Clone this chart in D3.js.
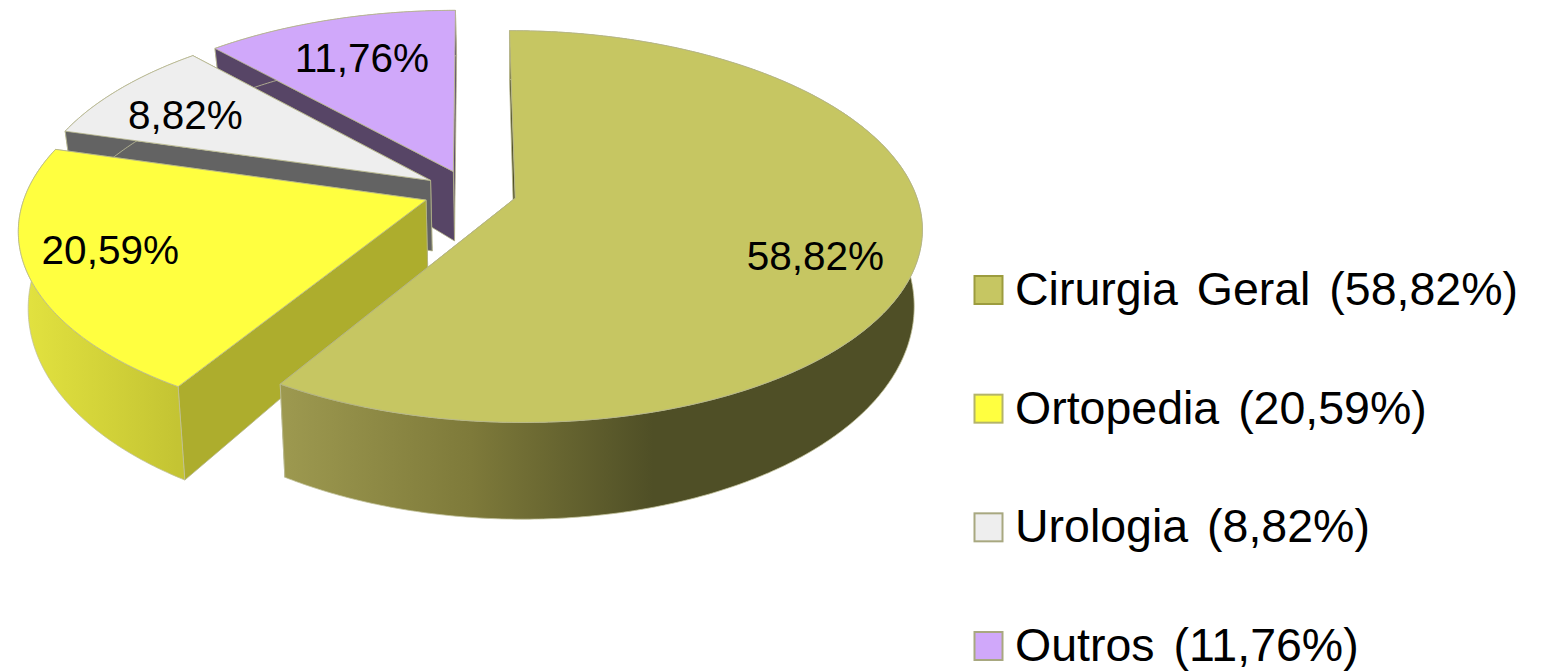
<!DOCTYPE html>
<html>
<head>
<meta charset="utf-8">
<script src="https://cdn.jsdelivr.net/npm/d3@7"></script>
<style>
html, body { margin: 0; padding: 0; background: #fff; }
svg { display: block; }
text { font-family: "Liberation Sans", Arial, sans-serif; fill: #000; }
</style>
</head>
<body>
<svg id="chart" width="1556" height="672"></svg>
<script>
// chart values
var categories = ["Cirurgia Geral", "Ortopedia", "Urologia", "Outros"];
var values = [58.82, 20.59, 8.82, 11.76];
var labels = ["58,82%", "20,59%", "8,82%", "11,76%"];
var legendLabels = ["Cirurgia Geral (58,82%)", "Ortopedia (20,59%)", "Urologia (8,82%)", "Outros (11,76%)"];

// colours per slice: top, side face, legend border
var topColors = ["#c6c662", "#ffff40", "#eeeeee", "#d0a8fa"];
var sideColors = ["#4f4f26", "#adad2d", "#636363", "#574566"];
var borderColors = ["#9c9c3e", "#b4b46a", "#a8a880", "#a8a880"];

var width = 1556,
    height = 672;

// perspective of the pie plane
var cx = 470, cy = 192, A = 400, B = 190, persp = 0.1444, explode = 0.117;

function project(u, v) {
    var w = 1 + persp * v;
    return [cx + A * u / w, cy - B * v / w, v];
}

// same point on the lower rim: nearer points drop further, x leans to the vanishing point
function lower(p) {
    var depth = 72 - 24 * p[2];
    return [p[0] + (512 - p[0]) * 0.02, p[1] + depth];
}

var svg = d3.select("#chart");
var defs = svg.append("defs");
var line = d3.line();

var pie = d3.pie().sort(null)(values);

var ramps = [
    { x1: 276, x2: 925, stops: [[0, "#9e9a50"], [0.3, "#7e7a3a"], [0.58, "#4f4f26"], [1, "#4f4f26"]] },
    { x1: 15, x2: 178, stops: [[0, "#e4e440"], [1, "#c4c433"]] },
    { x1: 0, x2: 500, stops: [[0, "#636363"], [1, "#636363"]] },
    { x1: 0, x2: 500, stops: [[0, "#574566"], [1, "#574566"]] }
];

ramps.forEach(function (r, i) {
    var g = defs.append("linearGradient")
        .attr("id", "wall-" + i)
        .attr("gradientUnits", "userSpaceOnUse")
        .attr("x1", r.x1).attr("x2", r.x2).attr("y1", 0).attr("y2", 0);
    r.stops.forEach(function (s) {
        g.append("stop").attr("offset", s[0]).attr("stop-color", s[1]);
    });
});

var slices = pie.map(function (d, i) {
    var mid = (d.startAngle + d.endAngle) / 2,
        u0 = explode * Math.sin(mid),
        v0 = explode * Math.cos(mid),
        steps = Math.ceil((d.endAngle - d.startAngle) / 0.01),
        arc = d3.range(steps + 1).map(function (k) {
            var a = d.startAngle + (d.endAngle - d.startAngle) * k / steps;
            return project(u0 + Math.sin(a), v0 + Math.cos(a));
        });
    return {
        i: i,
        apex: project(u0, v0),
        arc: arc,
        label: project(u0 + 0.75 * Math.sin(mid), v0 + 0.75 * Math.cos(mid))
    };
});

function quad(a, b) {
    return line([a, b, lower(b), lower(a)].map(function (p) { return [p[0], p[1]]; })) + "Z";
}

// painter's order: far slices first, the big one last
[3, 2, 1, 0].forEach(function (i) {
    var s = slices[i],
        g = svg.append("g"),
        first = s.arc[0],
        last = s.arc[s.arc.length - 1];

    g.append("path").attr("d", quad(s.apex, last))
        .attr("fill", sideColors[i]).attr("stroke", "#b5b58a").attr("stroke-width", 0.8);
    g.append("path").attr("d", quad(s.apex, first))
        .attr("fill", sideColors[i]).attr("stroke", "#b5b58a").attr("stroke-width", 0.8);

    var wall = s.arc.map(function (p) { return [p[0], p[1]]; })
        .concat(s.arc.slice().reverse().map(lower));
    g.append("path").attr("d", line(wall) + "Z")
        .attr("fill", "url(#wall-" + i + ")").attr("stroke", "#c2c29a").attr("stroke-width", 0.8);

    var top = [s.apex].concat(s.arc).map(function (p) { return [p[0], p[1]]; });
    g.append("path").attr("d", line(top) + "Z")
        .attr("fill", topColors[i]).attr("stroke", "#b5b58a").attr("stroke-width", 0.8);
});

// data labels sit near 3/4 radius, with small hand shifts
var labelShift = [[0, 17], [-21, -5], [-8, 4], [4, 3]];
svg.append("g").selectAll("text")
    .data(slices)
  .enter().append("text")
    .attr("x", function (d) { return d.label[0] + labelShift[d.i][0]; })
    .attr("y", function (d) { return d.label[1] + labelShift[d.i][1]; })
    .attr("dy", "0.36em")
    .attr("text-anchor", "middle")
    .attr("font-size", 40.5)
    .text(function (d) { return labels[d.i]; });

// legend
var legendY = d3.scalePoint().domain(categories).range([290, 646]);
var legend = svg.append("g").selectAll("g")
    .data(categories)
  .enter().append("g")
    .attr("transform", function (d) { return "translate(974," + legendY(d) + ")"; });

legend.append("rect")
    .attr("x", 0.5).attr("y", -14)
    .attr("width", 28).attr("height", 28)
    .attr("fill", function (d, i) { return topColors[i]; })
    .attr("stroke", function (d, i) { return borderColors[i]; })
    .attr("stroke-width", 2);

legend.append("text")
    .attr("x", 41)
    .attr("y", 15)
    .attr("font-size", 46.5)
    .attr("word-spacing", 6)
    .text(function (d, i) { return legendLabels[i]; });
</script>
</body>
</html>
